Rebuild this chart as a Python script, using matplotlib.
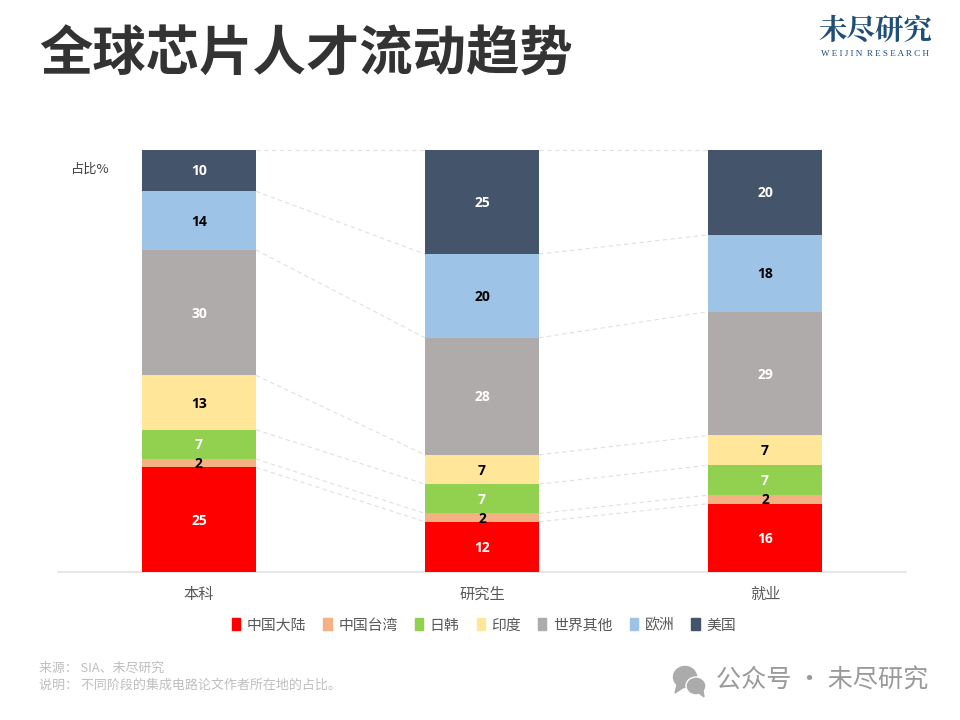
import numpy as np
import matplotlib
matplotlib.use("Agg")
import matplotlib.pyplot as plt
from matplotlib.patches import Ellipse, Polygon, Patch

plt.rcParams['font.family'] = ['Noto Sans CJK SC', 'DejaVu Sans']

categories = ["本科", "研究生", "就业"]
series_names = ["中国大陆", "中国台湾", "日韩", "印度", "世界其他", "欧洲", "美国"]
mainland = [25, 12, 16]
taiwan = [2, 2, 2]
japan_korea = [7, 7, 7]
india = [13, 7, 7]
other = [30, 28, 29]
europe = [14, 20, 18]
usa = [10, 25, 20]

colors = ["#FF0000", "#F4B183", "#92D050", "#FFE699", "#AFABAB", "#9DC3E6", "#44546A"]
label_colors = ["white", "black", "white", "black", "white", "black", "white"]

values = np.array([mainland, taiwan, japan_korea, india, other, europe, usa], dtype=float)
shares = values / values.sum(axis=0)
tops = np.cumsum(shares, axis=0)
bottoms = tops - shares

W, H = 960, 720
fig = plt.figure(figsize=(9.6, 7.2), dpi=100, facecolor="white")
ax = fig.add_axes([58 / W, 1 - 572 / H, (906 - 58) / W, (572 - 149.5) / H])
x = np.arange(len(categories))
bar_w = 0.403

for i, name in enumerate(series_names):
    ax.bar(x, shares[i], bottom=bottoms[i], width=bar_w, color=colors[i], label=name, zorder=3)
    for j in x:
        ax.annotate(f"{values[i, j]:.0f}", (j, bottoms[i, j] + shares[i, j] / 2), xytext=(0, -1),
                    textcoords="offset pixels", ha="center", va="center",
                    color=label_colors[i], fontsize=10, fontweight="bold", family="Open Sans", zorder=4)

# dashed connectors between neighbouring stacks
for i in range(len(series_names)):
    for j in range(len(categories) - 1):
        ax.plot([j + bar_w / 2, j + 1 - bar_w / 2], [tops[i, j], tops[i, j + 1]],
                color="#E0E0E0", lw=0.8, ls=(0, (4, 3)), zorder=2)

ax.set_xlim(-0.498, 2.498)
ax.set_ylim(0, 1)
ax.set_yticks([])
ax.set_xticks(x)
ax.set_xticklabels(categories, fontsize=11, color="#595959")
ax.tick_params(axis="x", length=0, pad=10)
for s in ["top", "left", "right"]:
    ax.spines[s].set_visible(False)
ax.spines["bottom"].set_color("#E2E2E2")
ax.spines["bottom"].set_linewidth(1.2)

handles = [Patch(color=c, label=n) for c, n in zip(colors, series_names)]
fig.legend(handles=handles, loc="center", bbox_to_anchor=(484 / W, 1 - 625.5 / H), ncol=7, frameon=False,
           fontsize=10.7, labelcolor="#595959", handlelength=0.55, handleheight=0.85, handletextpad=0.45,
           columnspacing=1.15, borderpad=0)


def ftext(px, py, s, **kw):
    return fig.text(px / W, 1 - py / H, s, **kw)


ftext(39, 55, "全球芯片人才流动趋势", fontsize=38.4, fontweight="bold", color="#333333", va="center", ha="left")
ftext(90, 169.5, "占比%", fontsize=9.5, color="#404040", va="center", ha="center")
ftext(875, 31, "未尽研究", fontsize=20.5, fontweight="bold", color="#1F4E79", va="center", ha="center",
      family=["Noto Serif CJK SC", "Noto Sans CJK SC"])
ftext(875, 54, "W E I J I N  R E S E A R C H", fontsize=6.6, color="#1F4E79", va="center", ha="center",
      family="Liberation Serif")
ftext(39, 668.5, "来源： SIA、未尽研究", fontsize=9.3, color="#BFBFBF", va="center", ha="left")
ftext(39, 685.5, "说明： 不同阶段的集成电路论文作者所在地的占比。", fontsize=9.4, color="#BFBFBF", va="center", ha="left")
ftext(716, 681, "公众号 · 未尽研究", fontsize=18.1, color="#9A9A9A", va="center", ha="left")

# WeChat-style watermark icon
overlay = fig.add_axes([0, 0, 1, 1], facecolor="none")
overlay.set_xlim(0, W)
overlay.set_ylim(H, 0)
overlay.axis("off")
overlay.add_patch(Ellipse((685, 677), 23, 21, color="#ABABAB"))
overlay.add_patch(Polygon([[677, 685], [675, 693], [684, 687]], color="#ABABAB"))
overlay.add_patch(Ellipse((696, 686), 20, 18, fc="#ABABAB", ec="white", lw=1))
overlay.add_patch(Polygon([[699, 693], [704, 697], [703, 690]], color="#ABABAB"))

fig.savefig("out.png", dpi=100, facecolor="white")
